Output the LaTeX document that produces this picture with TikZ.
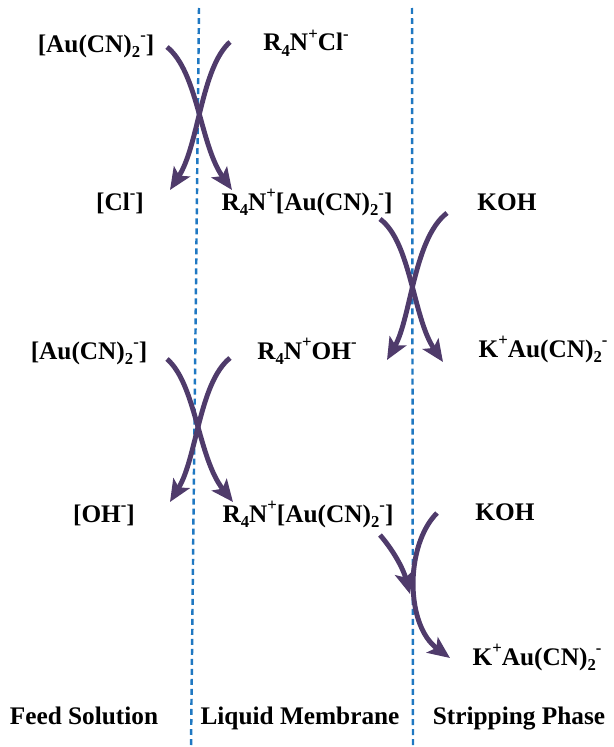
\documentclass[tikz,border=0pt]{standalone}
\usepackage{fontspec}
\setmainfont{Liberation Serif}
\usetikzlibrary{arrows.meta}
\definecolor{ArrowClr}{rgb}{0.31,0.23,0.42}
\definecolor{WallClr}{rgb}{0.12,0.47,0.76}
\newcommand{\Sb}[1]{\raisebox{-0.5ex}{\fontsize{9.5}{10}\selectfont #1}}
\newcommand{\Sp}[1]{\raisebox{1ex}{\fontsize{9.5}{10}\selectfont #1}}

\begin{document}
\begin{tikzpicture}[x=0.02cm,y=-0.02cm,
  lbl/.style={font=\fontsize{14.4}{16}\selectfont\bfseries,inner sep=0pt,anchor=base},
  flux/.style={draw=ArrowClr,line width=2.8pt,-{Stealth[length=0.44cm,width=0.38cm,inset=0.1cm]}},
  wall/.style={draw=WallClr,line width=1.4pt,dash pattern=on 3.4pt off 2.3pt}]
\useasboundingbox (0,0) rectangle (613,747);

\coordinate (W1t) at (199,8); \coordinate (W1b) at (191,747);
\coordinate (W2t) at (412,8); \coordinate (W2b) at (413,747);

\draw[wall] (W1t) -- (W1b);
\draw[wall] (W2t) -- (W2b);


\node[lbl] (au1) at (96,52) {[Au(CN)\Sb{2}\Sp{-}]};
\node[lbl] (rcl) at (306,51) {R\Sb{4}N\Sp{+}Cl\Sp{-}};
\node[lbl] (cl) at (120,210) {[Cl\Sp{-}]};
\node[lbl] (rau1) at (307,210) {R\Sb{4}N\Sp{+}[Au(CN)\Sb{2}\Sp{-}]};
\node[lbl] (koh1) at (507,210) {KOH};
\node[lbl] (au2) at (89,359) {[Au(CN)\Sb{2}\Sp{-}]};
\node[lbl] (roh) at (307,359) {R\Sb{4}N\Sp{+}OH\Sp{-}};
\node[lbl] (kau1) at (543,357) {K\Sp{+}Au(CN)\Sb{2}\Sp{-}};
\node[lbl] (oh) at (104,522) {[OH\Sp{-}]};
\node[lbl] (rau2) at (308,522) {R\Sb{4}N\Sp{+}[Au(CN)\Sb{2}\Sp{-}]};
\node[lbl] (koh2) at (505,520) {KOH};
\node[lbl] (kau2) at (537,665) {K\Sp{+}Au(CN)\Sb{2}\Sp{-}};

\node[lbl] (feed) at (84,724) {Feed Solution};
\node[lbl] (memb) at (300,724) {Liquid Membrane};
\node[lbl] (strip) at (519,724) {Stripping Phase};


\coordinate (A1) at (167,47); \coordinate (A2) at (232,190);
\coordinate (B1) at (230,42); \coordinate (B2) at (170,190);
\coordinate (C1) at (380,219); \coordinate (C2) at (443,362);
\coordinate (D1) at (447,213); \coordinate (D2) at (387,360);
\coordinate (E1) at (167,359); \coordinate (E2) at (233,502);
\coordinate (G1) at (230,358); \coordinate (G2) at (170,502);
\coordinate (H1) at (380,535); \coordinate (H2) at (410,594);
\coordinate (K1) at (437,513); \coordinate (K2) at (450,658);

\draw[flux] (A1) .. controls (198,72) and (200,145) .. (A2);
\draw[flux] (B1) .. controls (201,68) and (199,145) .. (B2);
\draw[flux] (C1) .. controls (411,242) and (413,318) .. (C2);
\draw[flux] (D1) .. controls (414,238) and (411,318) .. (D2);
\draw[flux] (E1) .. controls (196,384) and (198,458) .. (E2);
\draw[flux] (G1) .. controls (199,383) and (197,458) .. (G2);
\draw[flux] (H1) .. controls (393,550) and (403,568) .. (H2);
\draw[flux] (K1) .. controls (405,545) and (405,625) .. (K2);

\end{tikzpicture}
\end{document}
